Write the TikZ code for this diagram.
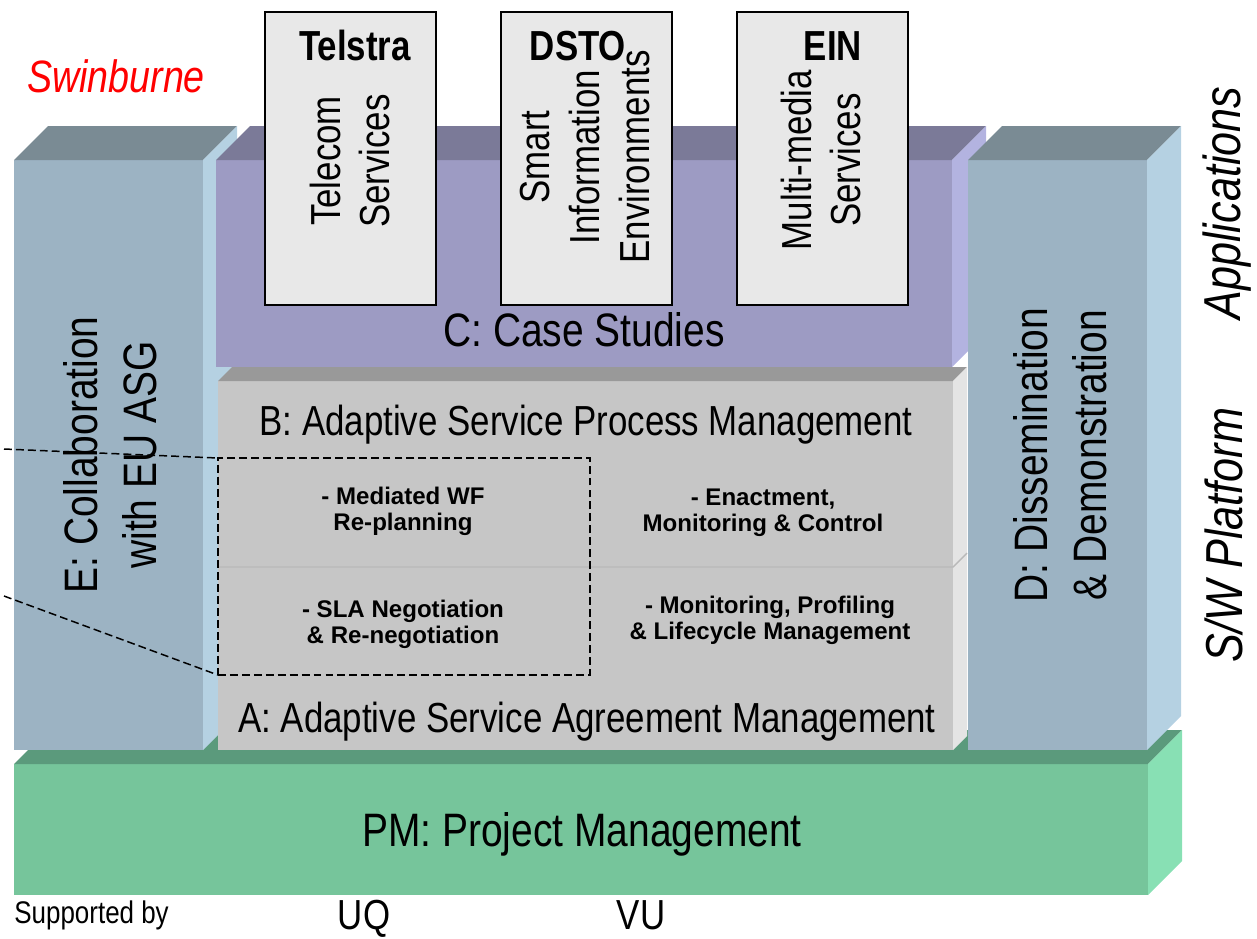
\documentclass[tikz,border=0pt]{standalone}
\usepackage{fontspec}
\setmainfont[FakeStretch=0.83]{Liberation Sans}
\newfontfamily\plainsans{Liberation Sans}
\definecolor{efront}{RGB}{156, 179, 195}
\definecolor{etop}{RGB}{122, 139, 148}
\definecolor{eside}{RGB}{181, 209, 226}
\definecolor{cfront}{RGB}{157, 155, 195}
\definecolor{ctop}{RGB}{123, 122, 152}
\definecolor{cside}{RGB}{179, 179, 224}
\definecolor{gfront}{RGB}{198, 198, 198}
\definecolor{gtop}{RGB}{153, 153, 153}
\definecolor{gside}{RGB}{228, 228, 228}
\definecolor{pmfront}{RGB}{118, 197, 155}
\definecolor{pmtop}{RGB}{91, 154, 124}
\definecolor{pmside}{RGB}{136, 224, 180}
\definecolor{appfill}{RGB}{232, 232, 232}
\usetikzlibrary{calc, fit}

\tikzset{
  face/.style={inner sep=0pt, outer sep=0pt},
  biglbl/.style={font=\fontsize{26.7}{33.6}\selectfont, align=center},
  midlbl/.style={font=\fontsize{23.9}{28.4}\selectfont, align=center},
  tasklbl/.style={font=\plainsans\bfseries\fontsize{13.7}{14.7}\selectfont, align=center},
  appbox/.style={draw=black, line width=1.1pt, fill=appfill, inner sep=0pt},
  layerlbl/.style={font=\itshape\fontsize{29.6}{34}\selectfont, rotate=90},
}

\begin{document}
\begin{tikzpicture}[x=0.02cm, y=-0.02cm]
  \useasboundingbox (0,0) rectangle (1257,938);

  % PM slab at the bottom
  \node[face, fill=pmfront, fit={(14,764) (1148,895)}] (PM) {};
  \fill[pmtop] (PM.north west) -- ++(34,-34) -- ($(PM.north east)+(34,-34)$) -- (PM.north east) -- cycle;
  \fill[pmside] (PM.north east) -- ++(34,-34) -- ($(PM.south east)+(34,-34)$) -- (PM.south east) -- cycle;

  % E column
  \node[face, fill=efront, fit={(14,160) (203,750)}] (E) {};
  \fill[etop] (E.north west) -- ++(34,-34) -- ($(E.north east)+(34,-34)$) -- (E.north east) -- cycle;
  \fill[eside] (E.north east) -- ++(34,-34) -- ($(E.south east)+(34,-34)$) -- (E.south east) -- cycle;

  % C case studies
  \node[face, fill=cfront, fit={(216,160) (952,367)}] (C) {};
  \fill[ctop] (C.north west) -- ++(34,-34) -- ($(C.north east)+(34,-34)$) -- (C.north east) -- cycle;
  \fill[cside] (C.north east) -- ++(34,-34) -- ($(C.south east)+(34,-34)$) -- (C.south east) -- cycle;

  % B and A layers
  \node[face, fill=gfront, fit={(218,381) (953,567)}] (B) {};
  \node[face, fill=gfront, fit={(218,567) (953,750)}] (A) {};
  \fill[gtop] (B.north west) -- ++(14,-14) -- ($(B.north east)+(14,-14)$) -- (B.north east) -- cycle;
  \fill[gside] (B.north east) -- ++(14,-14) -- ($(A.south east)+(14,-14)$) -- (A.south east) -- cycle;
  \draw[gray!55, line width=0.8pt] (A.north west) -- (A.north east) -- ++(14,-14);

  % D column
  \node[face, fill=efront, fit={(968,160) (1147,750)}] (D) {};
  \fill[etop] (D.north west) -- ++(34,-34) -- ($(D.north east)+(34,-34)$) -- (D.north east) -- cycle;
  \fill[eside] (D.north east) -- ++(34,-34) -- ($(D.south east)+(34,-34)$) -- (D.south east) -- cycle;

  % application partners
  \node[appbox, fit={(265,12) (436,305)}] (telstra) {};
  \node[appbox, fit={(501,12) (672,305)}] (dsto) {};
  \node[appbox, fit={(737,12) (908,305)}] (ein) {};
  \node[midlbl, anchor=base] (telstraname) at (355,60) {\bfseries Telstra};
  \node[midlbl, anchor=base] (dstoname) at (578,60) {\bfseries DSTO};
  \node[midlbl, anchor=base] (einname) at (833,60) {\bfseries EIN};
  \node[midlbl, rotate=90] (telstraapp) at (350,161) {Telecom\\Services};
  \node[midlbl, rotate=90] (dstoapp) at (585,157) {Smart\\Information\\Environments};
  \node[midlbl, rotate=90] (einapp) at (821,160) {Multi-media\\Services};

  % layer labels
  \node[biglbl, anchor=base] (Ctext) at (584,346) {C: Case Studies};
  \node[midlbl, anchor=base] (Btext) at (586,435) {B: Adaptive Service Process Management};
  \node[midlbl, anchor=base] (Atext) at (587,732) {A: Adaptive Service Agreement Management};
  \node[biglbl, anchor=base] (PMtext) at (582,846) {PM: Project Management};
  \node[biglbl, rotate=90] (Etext) at (110,455) {E: Collaboration\\with EU ASG};
  \node[biglbl, rotate=90] (Dtext) at (1060,455) {D: Dissemination\\\& Demonstration};

  % work items
  \node[tasklbl] (replan) at (403,511) {- Mediated WF\\Re-planning};
  \node[tasklbl] (enact) at (763,513) {- Enactment,\\Monitoring \& Control};
  \node[tasklbl] (sla) at (403,624) {- SLA Negotiation\\\& Re-negotiation};
  \node[tasklbl] (monitor) at (770,620) {- Monitoring, Profiling\\\& Lifecycle Management};

  % dashed focus area
  \node[face, draw=black, line width=0.85pt, dash pattern=on 4.5pt off 2.3pt, fit={(218,458) (590,675)}] (focus) {};
  \coordinate (cuttop) at (4,449);
  \coordinate (cutbot) at (4,596);
  \draw[line width=0.85pt, dash pattern=on 4.5pt off 2.3pt] (cuttop) -- (focus.north west);
  \draw[line width=0.85pt, dash pattern=on 4.5pt off 2.3pt] (cutbot) -- (focus.south west);

  % side and bottom texts
  \node[font=\itshape\fontsize{25.8}{30}\selectfont, text=red, anchor=base] (swin) at (116,92) {Swinburne};
  \node[layerlbl] (apps) at (1227,203) {Applications};
  \node[layerlbl] (platform) at (1224,535) {S/W Platform};
  \node[font=\fontsize{17.8}{20}\selectfont, anchor=base west, inner xsep=0pt] (support) at (14,923) {Supported by};
  \node[midlbl, anchor=base] (uq) at (364,929) {UQ};
  \node[midlbl, anchor=base] (vu) at (641,929) {VU};
\end{tikzpicture}
\end{document}
